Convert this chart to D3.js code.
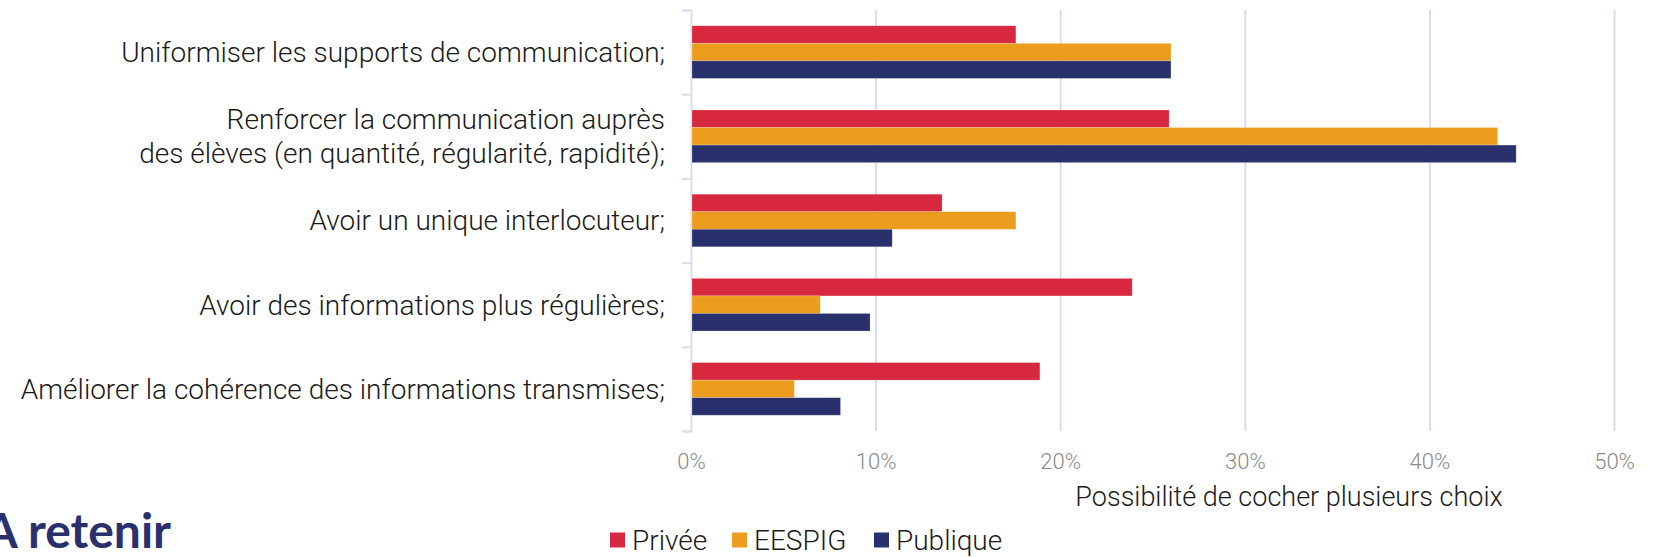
<!DOCTYPE html>
<html>
<head>
<meta charset="utf-8">
<script src="https://cdn.jsdelivr.net/npm/d3@7"></script>
<style>
  html, body { margin: 0; padding: 0; background: #fff; }
  svg { display: block; }
</style>
</head>
<body>
<div id="chart"></div>
<script>
// data
const categories = [
  "Uniformiser les supports de communication;",
  "Renforcer la communication auprès|des élèves (en quantité, régularité, rapidité);",
  "Avoir un unique interlocuteur;",
  "Avoir des informations plus régulières;",
  "Améliorer la cohérence des informations transmises;"
];
const series = ["Privée", "EESPIG", "Publique"];
const privee   = [0.176, 0.259, 0.136, 0.239, 0.189];
const eespig   = [0.260, 0.437, 0.176, 0.070, 0.056];
const publique = [0.260, 0.447, 0.109, 0.097, 0.081];
const xTicks = [0, 0.1, 0.2, 0.3, 0.4, 0.5];
const xTitle = "Possibilité de cocher plusieurs choix";
const sideTitle = "A retenir";

const colors = {"Privée": "#d7283f", "EESPIG": "#ec9d1e", "Publique": "#29306b"};
const values = {"Privée": privee, "EESPIG": eespig, "Publique": publique};

const width = 1659, height = 557;
const margin = {top: 10, right: 45, bottom: 126, left: 691};
const gridColor = "#dcdcf1";

const svg = d3.select("#chart").append("svg")
    .attr("width", width)
    .attr("height", height)
    .attr("viewBox", [0, 0, width, height]);

const x = d3.scaleLinear().domain([0, 0.5]).range([margin.left, 1614]);
const y = d3.scaleBand().domain(d3.range(categories.length))
    .range([margin.top, height - margin.bottom]);
const ySub = d3.scaleBand().domain(series)
    .range([0, y.bandwidth()]).paddingOuter(0.9);

// vertical grid
svg.append("g")
    .attr("transform", `translate(0,${height - margin.bottom})`)
    .call(d3.axisBottom(x).tickValues(xTicks.slice(1)).tickSize(-(height - margin.bottom - margin.top)).tickFormat(""))
    .call(g => g.select(".domain").remove())
    .call(g => g.selectAll(".tick line").attr("stroke", gridColor).attr("stroke-width", 2));

// x tick labels
svg.append("g")
    .attr("transform", `translate(0,${height - margin.bottom})`)
    .call(d3.axisBottom(x).tickValues(xTicks).tickSize(0).tickPadding(22).tickFormat(d3.format(".0%")))
    .call(g => g.select(".domain").remove())
    .call(g => g.selectAll("text")
        .attr("font-family", "Roboto, sans-serif")
        .attr("font-weight", 300)
        .attr("font-size", 22)
        .attr("fill", "#8a8a8a"));

// y axis with ticks between categories
const yIdx = d3.scaleLinear().domain([0, categories.length]).range(y.range());
svg.append("g")
    .attr("transform", `translate(${margin.left},0)`)
    .call(d3.axisLeft(yIdx).ticks(categories.length).tickSize(9).tickFormat(""))
    .call(g => g.select(".domain").attr("stroke", gridColor).attr("stroke-width", 2))
    .call(g => g.selectAll(".tick line").attr("stroke", gridColor).attr("stroke-width", 2));

// bars
const groups = svg.append("g").selectAll("g")
    .data(categories.map((c, i) => i))
    .join("g")
    .attr("transform", i => `translate(0,${y(i)})`);

groups.selectAll("rect")
    .data(i => series.map(s => ({s, v: values[s][i]})))
    .join("rect")
    .attr("x", x(0) + 1)
    .attr("y", d => ySub(d.s))
    .attr("width", d => x(d.v) - x(0) - 1)
    .attr("height", ySub.bandwidth())
    .attr("fill", d => colors[d.s])
    .attr("stroke", "#fff")
    .attr("stroke-opacity", 0.35)
    .attr("stroke-width", 0.6);

// category labels
const labels = svg.append("g")
    .attr("font-family", "Roboto, sans-serif")
    .attr("font-weight", 300)
    .attr("font-size", 28)
    .attr("fill", "#1a1a1a")
    .attr("text-anchor", "end");

categories.forEach((c, i) => {
  const lines = c.split("|");
  const t = labels.append("text")
      .attr("transform", `translate(${margin.left - 26},${y(i) + y.bandwidth() / 2})`);
  lines.forEach((l, j) => {
    t.append("tspan")
        .attr("x", 0)
        .attr("y", (j - (lines.length - 1) / 2) * 34)
        .attr("dy", "0.35em")
        .text(l);
  });
});

// axis title
svg.append("text")
    .attr("x", 1289)
    .attr("y", 497)
    .attr("dy", "0.35em")
    .attr("text-anchor", "middle")
    .attr("font-family", "Roboto, sans-serif")
    .attr("font-weight", 300)
    .attr("font-size", 27)
    .attr("fill", "#1a1a1a")
    .text(xTitle);

// legend
const legendX = [610, 732, 874];
const legend = svg.append("g")
    .attr("font-family", "Roboto, sans-serif")
    .attr("font-weight", 300)
    .attr("font-size", 28)
    .selectAll("g")
    .data(series)
    .join("g")
    .attr("transform", (d, i) => `translate(${legendX[i]},540)`);
legend.append("rect")
    .attr("x", 0).attr("y", -7.5)
    .attr("width", 15).attr("height", 15)
    .attr("fill", d => colors[d]);
legend.append("text")
    .attr("x", 22)
    .attr("dy", "0.35em")
    .attr("fill", "#1a1a1a")
    .text(d => d);

// side heading, cut at the left edge
svg.append("text")
    .attr("x", 171)
    .attr("y", 548)
    .attr("text-anchor", "end")
    .attr("font-family", "Lato, sans-serif")
    .attr("font-weight", 700)
    .attr("font-size", 48)
    .attr("fill", "#2a2f6e")
    .text(sideTitle);
</script>
</body>
</html>
